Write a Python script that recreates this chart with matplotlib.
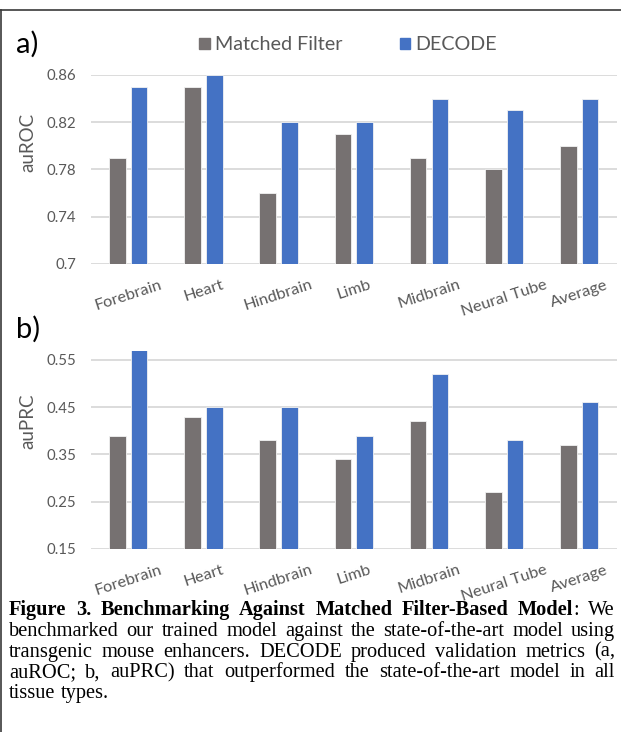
import matplotlib
matplotlib.use("Agg")
import matplotlib.pyplot as plt
import numpy as np
from matplotlib.lines import Line2D
from matplotlib.patches import Patch

tissues = ["Forebrain", "Heart", "Hindbrain", "Limb", "Midbrain", "Neural Tube", "Average"]
auroc_matched = [0.79, 0.85, 0.76, 0.81, 0.79, 0.78, 0.80]
auroc_decode = [0.85, 0.86, 0.82, 0.82, 0.84, 0.83, 0.84]
auprc_matched = [0.39, 0.43, 0.38, 0.34, 0.42, 0.27, 0.37]
auprc_decode = [0.57, 0.45, 0.45, 0.39, 0.52, 0.38, 0.46]
auroc_ticks = [0.7, 0.74, 0.78, 0.82, 0.86]
auprc_ticks = [0.15, 0.25, 0.35, 0.45, 0.55]
series_names = ["Matched Filter", "DECODE"]

caption_words = [
    [[("Figure", "bold")], [("3.", "bold")], [("Benchmarking", "bold")], [("Against", "bold")],
     [("Matched", "bold")], [("Filter-Based", "bold")], [("Model", "bold"), (":", "normal")],
     [("We", "normal")]],
    "benchmarked our trained model against the state-of-the-art model using",
    "transgenic mouse enhancers. DECODE produced validation metrics (a,",
    "auROC; b, auPRC) that outperformed the state-of-the-art model in all",
    "tissue types.",
]

GRAY = "#767171"
BLUE = "#4472C4"
GRID = "#D9D9D9"
TEXT = "#595959"

plt.rcParams["font.family"] = ["Lato", "DejaVu Sans"]

W, H = 621, 732
fig = plt.figure(figsize=(W / 100, H / 100), dpi=100)


def fx(px):
    return px / W


def fy(px):
    return 1 - px / H


ax_a = fig.add_axes([fx(90.7), fy(264), fx(526.2), fy(75) - fy(264)])
ax_b = fig.add_axes([fx(90.7), fy(549), fx(526.2), fy(350.5) - fy(549)])

x = np.arange(len(tissues))
bw, gap = 0.22, 0.07


def draw_panel(ax, matched, decode, ticks, ylabel, ylabel_y):
    ax.bar(x - (bw + gap) / 2, matched, bw, color=GRAY, edgecolor="#f2f2f2",
           linewidth=0.6, zorder=2)
    ax.bar(x + (bw + gap) / 2, decode, bw, color=BLUE, edgecolor="#f2f2f2",
           linewidth=0.6, zorder=2)
    ax.set_xlim(-0.5, len(tissues) - 0.5)
    ax.set_ylim(ticks[0], max(ticks[-1], max(decode)))
    ax.set_yticks(ticks)
    ax.set_yticklabels([f"{t:g}" for t in ticks])
    ax.yaxis.grid(True, color=GRID, linewidth=1.3)
    ax.set_axisbelow(True)
    for s in ax.spines.values():
        s.set_visible(False)
    ax.tick_params(axis="y", length=0, pad=10.5, labelsize=10.8, labelcolor=TEXT)
    ax.tick_params(axis="x", length=0, pad=10, labelsize=11.8, labelcolor=TEXT)
    ax.set_xticks(x)
    ax.set_xticklabels(tissues, rotation=18, ha="center", va="top")
    fig.text(fx(28), fy(ylabel_y), ylabel, rotation=90, ha="center", va="center",
             fontsize=13.5, color=TEXT)


draw_panel(ax_a, auroc_matched, auroc_decode, auroc_ticks, "auROC", 142)
draw_panel(ax_b, auprc_matched, auprc_decode, auprc_ticks, "auPRC", 421)

fig.text(fx(16), fy(53), "a)", fontsize=21, va="baseline")
fig.text(fx(16), fy(338), "b)", fontsize=21, va="baseline")

handles = [Patch(color=GRAY), Patch(color=BLUE)]
fig.legend(handles, series_names, loc="center", bbox_to_anchor=(fx(348), fy(45)),
           ncol=2, frameon=False, fontsize=14.2, handlelength=0.55, handleheight=0.55,
           handletextpad=0.25, columnspacing=2.9, labelcolor=TEXT)

# figure frame: top and left rules
fig.add_artist(Line2D([0, 1], [fy(10), fy(10)], color="#3a3a3a", linewidth=1.2))
fig.add_artist(Line2D([fx(1), fx(1)], [fy(10), 0], color="#3a3a3a", linewidth=1.2))

# justified caption
renderer = fig.canvas.get_renderer()
cap_size = 14.7
cap_left, cap_right = 9, 615
base0, step = 615, 20.8


def word_width(pieces):
    total = 0
    for txt, weight in pieces:
        t = fig.text(0, 0, txt, fontsize=cap_size, family="Liberation Serif", fontweight=weight)
        total += t.get_window_extent(renderer).width
        t.remove()
    return total


min_space = cap_size * 100 / 72 * 0.12
for i, line in enumerate(caption_words):
    if isinstance(line, str):
        words = [[(w, "normal")] for w in line.split(" ")]
    else:
        words = line
    widths = [word_width(w) for w in words]
    last = i == len(caption_words) - 1
    if last or len(words) < 2:
        space = cap_size * 100 / 72 * 0.25
    else:
        space = max(min_space, (cap_right - cap_left - sum(widths)) / (len(words) - 1))
    xpos = cap_left
    for w, wd in zip(words, widths):
        px = xpos
        for txt, weight in w:
            t = fig.text(fx(px), fy(base0 + i * step), txt, fontsize=cap_size,
                         family="Liberation Serif", fontweight=weight, va="baseline")
            px += t.get_window_extent(renderer).width
        xpos += wd + space

fig.savefig("out.png", dpi=100)
